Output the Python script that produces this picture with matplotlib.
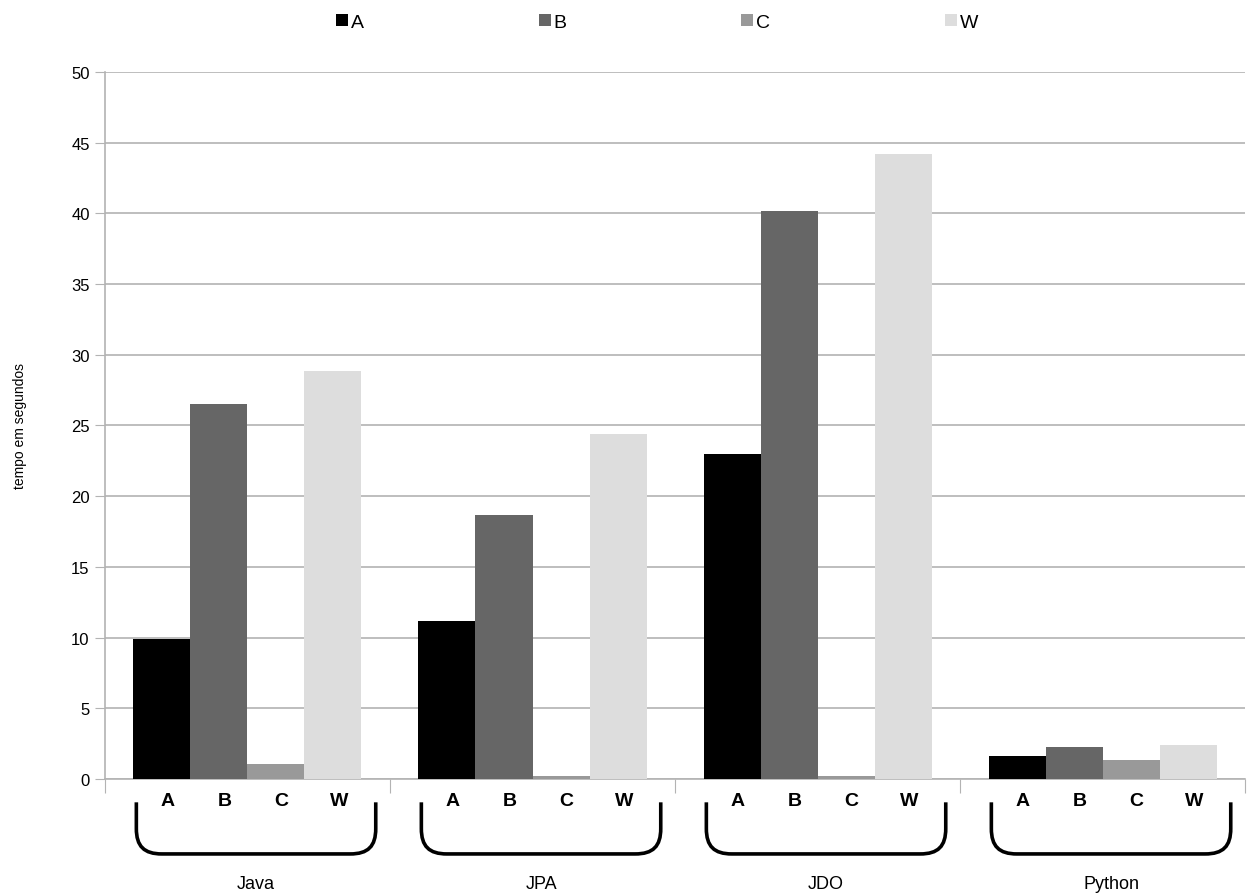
import numpy as np
import matplotlib
matplotlib.use("Agg")
import matplotlib.pyplot as plt
from matplotlib.path import Path
from matplotlib.patches import PathPatch
from matplotlib.transforms import blended_transform_factory

groups = ["Java", "JPA", "JDO", "Python"]
series = ["A", "B", "C", "W"]
vals_a = [9.9, 11.2, 23.0, 1.6]
vals_b = [26.5, 18.7, 40.2, 2.25]
vals_c = [1.05, 0.2, 0.2, 1.35]
vals_w = [28.85, 24.4, 44.2, 2.4]
colors = ["#000000", "#666666", "#999999", "#dddddd"]

plt.rcParams["font.family"] = ["Liberation Sans", "DejaVu Sans"]

fig = plt.figure(figsize=(12.47, 8.95), dpi=100)
ax = fig.add_axes([0.0842, 0.1285, 0.9142, 0.79])

x = np.arange(len(groups))
w = 0.2
handles = []
for i, (name, vals) in enumerate(zip(series, [vals_a, vals_b, vals_c, vals_w])):
    b = ax.bar(x + (i - 1.5) * w, vals, w, color=colors[i], label=name, zorder=3)
    handles.append(b)

ax.set_xlim(-0.5, len(groups) - 0.5)
ax.set_ylim(0, 50)
ax.set_yticks(range(0, 51, 5))
ax.tick_params(axis="y", labelsize=12, length=7, color="#b3b3b3", pad=4)
ax.set_xticks(np.arange(-0.5, len(groups), 1))
ax.set_xticklabels([])
ax.tick_params(axis="x", length=10, color="#b3b3b3")
ax.grid(axis="y", color="#b3b3b3", linewidth=1.2, zorder=0)
for s in ["top", "right"]:
    ax.spines[s].set_visible(False)
ax.spines["left"].set_color("#b3b3b3")
ax.spines["bottom"].set_color("#b3b3b3")
ax.spines["left"].set_linewidth(1.2)
ax.spines["bottom"].set_linewidth(1.2)

ax.set_ylabel("tempo em segundos", fontsize=10, labelpad=32)

tr = blended_transform_factory(ax.transData, ax.transAxes)
for g in range(len(groups)):
    for i, name in enumerate(series):
        ax.text(g + (i - 1.5) * w + 0.02, -0.03, name, transform=tr, ha="center", va="center",
                fontsize=14, fontweight="bold")
    # bracket under each group
    c = g + 0.03
    l, r = c - 0.42, c + 0.42
    top, bot = -0.033, -0.106
    rx, ry = 0.09, 0.036
    verts = [(l, top), (l, bot + ry), (l, bot + ry * 0.3), (l + rx * 0.3, bot), (l + rx, bot),
             (r - rx, bot), (r - rx * 0.3, bot), (r, bot + ry * 0.3), (r, bot + ry), (r, top)]
    codes = [Path.MOVETO, Path.LINETO, Path.CURVE4, Path.CURVE4, Path.CURVE4,
             Path.LINETO, Path.CURVE4, Path.CURVE4, Path.CURVE4, Path.LINETO]
    ax.add_patch(PathPatch(Path(verts, codes), transform=tr, fill=False, lw=2.6,
                           edgecolor="black", clip_on=False, capstyle="butt"))
    ax.text(c, -0.148, groups[g], transform=tr, ha="center", va="center", fontsize=13)

fig.legend(handles=handles, labels=series, loc="center", bbox_to_anchor=(0.527, 0.974),
           ncol=4, frameon=False, fontsize=14, handlelength=0.6, handleheight=0.6,
           handletextpad=0.15, columnspacing=9.0)

fig.savefig("out.png", dpi=100)
